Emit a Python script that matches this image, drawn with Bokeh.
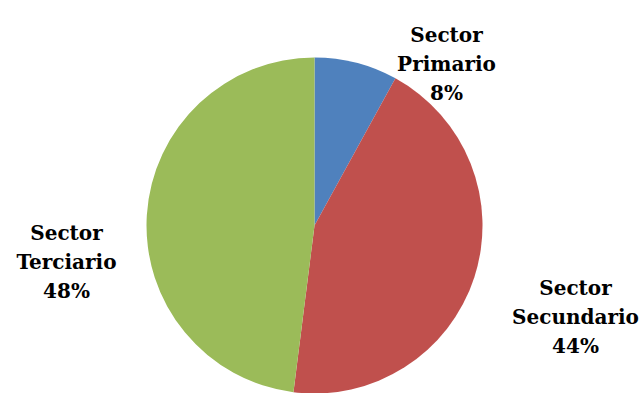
import math
from bokeh.plotting import figure
from bokeh.models import ColumnDataSource, Range1d
from bokeh.core.properties import value
from bokeh.embed import file_html
from bokeh.resources import INLINE

# Data
sectors = ["Primario", "Secundario", "Terciario"]
shares = [8, 44, 48]
colors = ["#4F81BD", "#C0504D", "#9BBB59"]

W, H = 644, 393
CX, CY, R = 314, 225, 168  # screen coords of pie centre, radius
# label anchors (screen x centre, baseline of first line)
label_pos = [(446, 34), (575, 287), (66, 232)]
LINE = 29

p = figure(width=W, height=H, output_backend="svg", toolbar_location=None,
           x_range=Range1d(0, W), y_range=Range1d(0, H), min_border=0)
p.axis.visible = False
p.grid.visible = False
p.outline_line_color = None
p.background_fill_color = "white"
p.border_fill_color = "white"

total = sum(shares)
starts, ends = [], []
cum = 0
for s in shares:
    starts.append(math.pi / 2 - 2 * math.pi * cum / total)
    cum += s
    ends.append(math.pi / 2 - 2 * math.pi * cum / total)

src = ColumnDataSource(dict(x=[CX] * 3, y=[H - CY] * 3, start=starts, end=ends, color=colors))
p.wedge(x="x", y="y", radius=R, start_angle="start", end_angle="end",
        direction="clock", fill_color="color", line_color=None, source=src)

tx, ty, tt = [], [], []
for name, s, (lx, ly) in zip(sectors, shares, label_pos):
    lines = ["Sector", name, f"{s}%"]
    for i, t in enumerate(lines):
        tx.append(lx)
        ty.append(H - (ly + i * LINE))
        tt.append(t)

tsrc = ColumnDataSource(dict(x=tx, y=ty, text=tt))
p.text(x="x", y="y", text="text", source=tsrc, text_font=value("DejaVu Serif"),
       text_font_style="bold", text_font_size="20px", text_align="center",
       text_baseline="alphabetic", text_color="black")

open("out.html", "w").write(file_html(p, INLINE))
